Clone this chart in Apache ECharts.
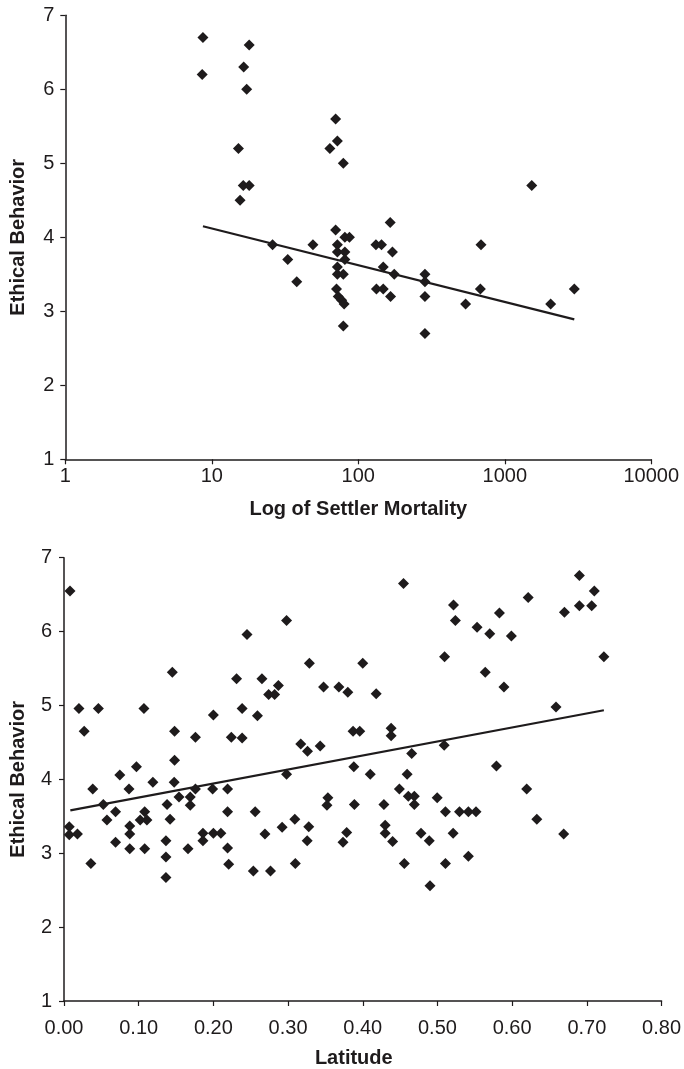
<!DOCTYPE html>
<html>
<head>
<meta charset="utf-8">
<script src="https://cdn.jsdelivr.net/npm/echarts@6/dist/echarts.min.js"></script>
<style>
html,body{margin:0;padding:0;background:#fff;}
#chart{width:684px;height:1069px;}
</style>
</head>
<body>
<div id="chart"></div>
<script>
// ---- Top chart: Log of Settler Mortality vs Ethical Behavior ----
const settlerMortality = [8.7, 8.6, 18, 16.5, 17.3, 15.2, 16.4, 18, 15.6, 70, 72, 64, 79, 26, 33, 38, 49, 70, 81, 87, 72, 72, 81, 81, 72, 72, 79, 71, 73, 77, 80, 79, 132, 144, 165, 171, 148, 176, 133, 148, 166, 285, 285, 285, 285, 688, 681, 540, 2056, 2981, 1527];
const ethicalTop = [6.7, 6.2, 6.6, 6.3, 6.0, 5.2, 4.7, 4.7, 4.5, 5.6, 5.3, 5.2, 5.0, 3.9, 3.7, 3.4, 3.9, 4.1, 4.0, 4.0, 3.9, 3.8, 3.8, 3.7, 3.6, 3.5, 3.5, 3.3, 3.2, 3.15, 3.1, 2.8, 3.9, 3.9, 4.2, 3.8, 3.6, 3.5, 3.3, 3.3, 3.2, 3.5, 3.4, 3.2, 2.7, 3.9, 3.3, 3.1, 3.1, 3.3, 4.7];
const trendTopX = [8.7, 2981];
const trendTopY = [4.15, 2.89];
const topXTicks = [1, 10, 100, 1000, 10000];

// ---- Bottom chart: Latitude vs Ethical Behavior ----
const latitude = [
  0.008, 0.020, 0.027, 0.046, 0.107, 0.145, 0.148, 0.148, 0.176, 0.200, 0.224, 0.231, 0.097,
  0.4545, 0.5215, 0.524, 0.5095, 0.298, 0.245, 0.3285, 0.400, 0.265, 0.287, 0.274, 0.282, 0.3475, 0.368, 0.380, 0.418,
  0.2385, 0.259, 0.2385, 0.317, 0.326, 0.343, 0.387, 0.396, 0.438, 0.438, 0.4655, 0.509, 0.388,
  0.690, 0.710, 0.690, 0.7065, 0.670, 0.6215, 0.553, 0.570, 0.583, 0.599, 0.7228, 0.564, 0.589, 0.6587, 0.579,
  0.007, 0.007, 0.018, 0.0385, 0.036, 0.0526, 0.0575, 0.069, 0.069, 0.0747, 0.087, 0.088, 0.088, 0.088,
  0.102, 0.108, 0.111, 0.108, 0.119, 0.1365, 0.1365, 0.1365, 0.138, 0.142, 0.1475, 0.154, 0.166, 0.169, 0.169,
  0.176, 0.186, 0.186, 0.199, 0.200, 0.210, 0.219, 0.219, 0.219, 0.2205,
  0.298, 0.256, 0.269, 0.2535, 0.2765, 0.292, 0.309, 0.3097, 0.3277, 0.3256, 0.3533, 0.352, 0.3888, 0.41,
  0.3785, 0.3735, 0.4283, 0.430, 0.430, 0.44, 0.449, 0.4594, 0.461, 0.469, 0.469, 0.4556, 0.478, 0.489, 0.49,
  0.4996, 0.5107, 0.5107, 0.521, 0.5295, 0.5414, 0.5516, 0.5414, 0.6195, 0.633, 0.669
];
const ethicalBottom = [
  6.55, 4.96, 4.65, 4.96, 4.96, 5.45, 4.65, 4.26, 4.57, 4.87, 4.57, 5.36, 4.17,
  6.65, 6.36, 6.15, 5.66, 6.15, 5.96, 5.57, 5.57, 5.36, 5.27, 5.15, 5.15, 5.25, 5.25, 5.18, 5.16,
  4.96, 4.86, 4.56, 4.48, 4.38, 4.45, 4.65, 4.65, 4.69, 4.59, 4.35, 4.46, 4.17,
  6.76, 6.55, 6.35, 6.35, 6.26, 6.46, 6.06, 5.97, 6.25, 5.94, 5.66, 5.45, 5.25, 4.98, 4.18,
  3.36, 3.25, 3.26, 3.87, 2.86, 3.66, 3.45, 3.56, 3.15, 4.06, 3.87, 3.37, 3.26, 3.06,
  3.45, 3.56, 3.45, 3.06, 3.96, 2.67, 2.95, 3.17, 3.66, 3.46, 3.96, 3.76, 3.06, 3.76, 3.65,
  3.87, 3.27, 3.17, 3.87, 3.27, 3.27, 3.87, 3.56, 3.07, 2.85,
  4.07, 3.56, 3.26, 2.76, 2.76, 3.35, 3.46, 2.86, 3.36, 3.17, 3.75, 3.65, 3.66, 4.07,
  3.28, 3.15, 3.66, 3.38, 3.27, 3.16, 3.87, 4.07, 3.77, 3.77, 3.66, 2.86, 3.27, 3.17, 2.56,
  3.75, 3.56, 2.86, 3.27, 3.56, 3.56, 3.56, 2.96, 3.87, 3.46, 3.26
];
const trendBottomX = [0.0085, 0.7228];
const trendBottomY = [3.58, 4.935];

const yTicks = [1, 2, 3, 4, 5, 6, 7];

const INK = '#1e1b1c';
const FONT = '"Liberation Sans", Arial, Helvetica, sans-serif';

const zip = (xs, ys) => xs.map((x, i) => [x, ys[i]]);

function yAxisCfg(gridIndex, nameGap, labelMargin) {
  return {
    gridIndex,
    type: 'value',
    min: yTicks[0],
    max: yTicks[yTicks.length - 1],
    interval: 1,
    name: 'Ethical Behavior',
    nameLocation: 'middle',
    nameRotate: 90,
    nameGap,
    nameTextStyle: { fontFamily: FONT, fontWeight: 'bold', fontSize: 20, color: INK },
    axisLine: { show: true, lineStyle: { color: INK, width: 1.5 } },
    axisTick: { show: true, inside: false, length: 5, lineStyle: { color: INK, width: 1.2 } },
    axisLabel: { margin: labelMargin, fontFamily: FONT, fontSize: 20, color: INK },
    splitLine: { show: false }
  };
}

const chart = echarts.init(document.getElementById('chart'), null, { renderer: 'canvas' });

chart.setOption({
  animation: false,
  backgroundColor: '#fff',
  grid: [
    { left: 65.3, top: 15.3, width: 586, height: 444 },
    { left: 60.3, top: 557.7, width: 603.7, height: 443.3 }
  ],
  xAxis: [
    {
      gridIndex: 0,
      type: 'log',
      logBase: 10,
      min: topXTicks[0],
      max: topXTicks[topXTicks.length - 1],
      name: 'Log of Settler Mortality',
      nameLocation: 'middle',
      nameGap: 40,
      nameTextStyle: { fontFamily: FONT, fontWeight: 'bold', fontSize: 20, color: INK },
      axisLine: { show: true, onZero: false, lineStyle: { color: INK, width: 1.5 } },
      axisTick: { show: true, length: 5, lineStyle: { color: INK, width: 1.2 } },
      axisLabel: { margin: 7, fontFamily: FONT, fontSize: 20, color: INK,
        formatter: v => String(Math.round(v)) },
      splitLine: { show: false },
      minorTick: { show: false }
    },
    {
      gridIndex: 1,
      type: 'value',
      min: 0,
      max: 0.8,
      interval: 0.1,
      name: 'Latitude',
      nameLocation: 'middle',
      nameGap: 47,
      nameTextStyle: { fontFamily: FONT, fontWeight: 'bold', fontSize: 20, color: INK, padding: [0, 18, 0, 0] },
      axisLine: { show: true, onZero: false, lineStyle: { color: INK, width: 1.5 } },
      axisTick: { show: true, length: 5, lineStyle: { color: INK, width: 1.2 } },
      axisLabel: { margin: 17, fontFamily: FONT, fontSize: 20, color: INK,
        formatter: v => v.toFixed(2) },
      splitLine: { show: false }
    }
  ],
  yAxis: [
    yAxisCfg(0, 37, 11),
    yAxisCfg(1, 36, 12)
  ],
  series: [
    {
      type: 'scatter', xAxisIndex: 0, yAxisIndex: 0,
      symbol: 'diamond', symbolSize: 11,
      itemStyle: { color: INK, opacity: 1 },
      data: zip(settlerMortality, ethicalTop)
    },
    {
      type: 'line', xAxisIndex: 0, yAxisIndex: 0,
      showSymbol: false, symbol: 'none',
      lineStyle: { color: INK, width: 2.2 },
      data: zip(trendTopX, trendTopY)
    },
    {
      type: 'scatter', xAxisIndex: 1, yAxisIndex: 1,
      symbol: 'diamond', symbolSize: 11,
      itemStyle: { color: INK, opacity: 1 },
      data: zip(latitude, ethicalBottom)
    },
    {
      type: 'line', xAxisIndex: 1, yAxisIndex: 1,
      showSymbol: false, symbol: 'none',
      lineStyle: { color: INK, width: 2.2 },
      data: zip(trendBottomX, trendBottomY)
    }
  ]
});
</script>
</body>
</html>
